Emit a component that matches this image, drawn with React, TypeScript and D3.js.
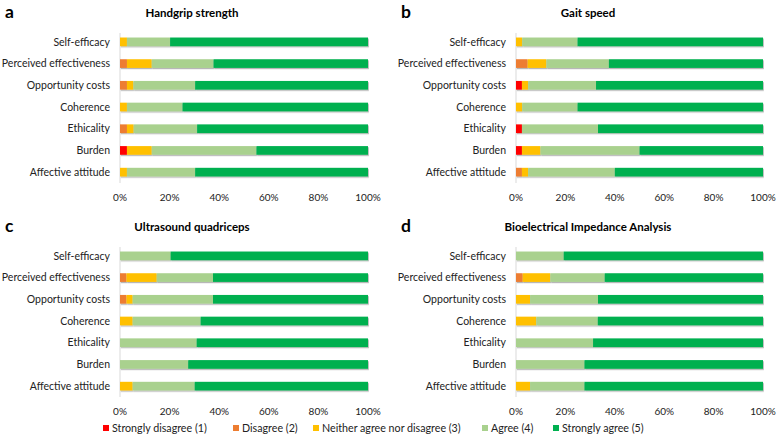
import * as d3 from "d3";
import { useEffect, useRef } from "react";

const categories = [
  "Self-efficacy",
  "Perceived effectiveness",
  "Opportunity costs",
  "Coherence",
  "Ethicality",
  "Burden",
  "Affective attitude",
];

const levels = [
  "Strongly disagree (1)",
  "Disagree (2)",
  "Neither agree nor disagree (3)",
  "Agree (4)",
  "Strongly agree (5)",
];

const colors = ["#ff0000", "#ed7d31", "#ffc000", "#a9d18e", "#00b050"];

const ticks = [0, 0.2, 0.4, 0.6, 0.8, 1];

// percent per category: [SD, D, N, A, SA]
const handgrip = [
  [0, 0, 2.8, 17.4, 79.8],
  [0, 2.8, 10.0, 24.9, 62.3],
  [0, 2.8, 2.6, 24.9, 69.7],
  [0, 0, 2.8, 22.4, 74.8],
  [0, 2.8, 2.7, 25.6, 68.9],
  [2.8, 0, 10.0, 42.2, 45.0],
  [0, 0, 2.8, 27.5, 69.7],
];

const gait = [
  [0, 0, 2.5, 22.4, 75.1],
  [0, 4.7, 7.6, 25.3, 62.4],
  [2.4, 0, 2.5, 27.5, 67.6],
  [0, 0, 2.5, 22.4, 75.1],
  [2.4, 0, 0, 30.8, 66.8],
  [2.4, 0, 7.5, 40.1, 50.0],
  [0, 2.4, 2.5, 35.1, 60.0],
];

const ultrasound = [
  [0, 0, 0, 20.4, 79.6],
  [0, 2.6, 12.2, 22.7, 62.5],
  [0, 2.6, 2.5, 32.4, 62.5],
  [0, 0, 5.1, 27.4, 67.5],
  [0, 0, 0, 30.9, 69.1],
  [0, 0, 0, 27.5, 72.5],
  [0, 0, 5.1, 25.0, 69.9],
];

const bia = [
  [0, 0, 0, 19.3, 80.7],
  [0, 2.7, 11.2, 22.0, 64.1],
  [0, 0, 5.7, 27.5, 66.8],
  [0, 0, 8.2, 24.9, 66.9],
  [0, 0, 0, 31.2, 68.8],
  [0, 0, 0, 27.7, 72.3],
  [0, 0, 5.7, 22.0, 72.3],
];

const panels = [
  { letter: "a", title: "Handgrip strength", rows: handgrip, x0: 120, x1: 368, top: 31 },
  { letter: "b", title: "Gait speed", rows: gait, x0: 516, x1: 763, top: 31 },
  { letter: "c", title: "Ultrasound quadriceps", rows: ultrasound, x0: 120, x1: 368, top: 245 },
  { letter: "d", title: "Bioelectrical Impedance Analysis", rows: bia, x0: 516, x1: 763, top: 245 },
];

const font = "Lato, 'Open Sans', sans-serif";

export default function App() {
  const ref = useRef<SVGSVGElement>(null);

  useEffect(() => {
    document.body.style.margin = "0";
    const svg = d3.select(ref.current);
    svg.selectAll("*").remove();

    const defs = svg.append("defs");
    const f = defs
      .append("filter")
      .attr("id", "shadow")
      .attr("x", "-5%")
      .attr("y", "-30%")
      .attr("width", "110%")
      .attr("height", "180%");
    f.append("feDropShadow")
      .attr("dx", 0.8)
      .attr("dy", 1.2)
      .attr("stdDeviation", 0.6)
      .attr("flood-color", "#000")
      .attr("flood-opacity", 0.3);

    const stack = d3.stack<number[]>().keys(levels.map((_, i) => String(i))).value((d, k) => d[+k]);

    panels.forEach((p) => {
      const g = svg.append("g");
      const x = d3.scaleLinear().domain([0, 100]).range([p.x0, p.x1]);
      const y = d3
        .scaleBand()
        .domain(categories)
        .range([p.top, p.top + 152])
        .paddingInner(0.6)
        .paddingOuter(0.3);

      // panel letter and title
      g.append("text")
        .attr("x", p.x0 - 115)
        .attr("y", p.top - 13)
        .attr("font-family", font)
        .attr("font-weight", "bold")
        .attr("font-size", 17.5)
        .text(p.letter);
      g.append("text")
        .attr("x", p.x0 + 72)
        .attr("y", p.top - 14)
        .attr("text-anchor", "middle")
        .attr("font-family", font)
        .attr("font-weight", "bold")
        .attr("font-size", 11.5)
        .text(p.title);

      // axis line
      g.append("line")
        .attr("x1", p.x0)
        .attr("x2", p.x0)
        .attr("y1", p.top + 2)
        .attr("y2", p.top + 152)
        .attr("stroke", "#d9d9d9")
        .attr("stroke-width", 1);

      // category labels
      g.selectAll(".cat")
        .data(categories)
        .join("text")
        .attr("x", p.x0 - 10)
        .attr("y", (d) => y(d)! + y.bandwidth() / 2)
        .attr("dy", "0.35em")
        .attr("text-anchor", "end")
        .attr("font-family", font)
        .attr("font-size", 10.5)
        .attr("fill", "#222")
        .text((d) => d);

      // stacked bars
      const bars = g.append("g").attr("filter", "url(#shadow)");
      const series = stack(p.rows);
      series.forEach((s, si) => {
        bars
          .append("g")
          .attr("fill", colors[si])
          .selectAll("rect")
          .data(s.filter((d) => d[1] - d[0] > 0))
          .join("rect")
          .attr("x", (d) => x(d[0]))
          .attr("y", (d) => y(categories[p.rows.indexOf(d.data)])!)
          .attr("width", (d) => x(d[1]) - x(d[0]))
          .attr("height", y.bandwidth());
      });

      // tick labels
      g.selectAll(".tick")
        .data(ticks)
        .join("text")
        .attr("x", (d) => x(d * 100))
        .attr("y", p.top + 170)
        .attr("text-anchor", "middle")
        .attr("font-family", font)
        .attr("font-size", 10)
        .attr("fill", "#222")
        .text((d) => d3.format(".0%")(d));
    });

    // legend
    const legendX = [103, 233, 313, 482, 553];
    const lg = svg.append("g");
    levels.forEach((l, i) => {
      lg.append("rect")
        .attr("x", legendX[i])
        .attr("y", 425)
        .attr("width", 6)
        .attr("height", 6)
        .attr("fill", colors[i]);
      lg.append("text")
        .attr("x", legendX[i] + 9)
        .attr("y", 432)
        .attr("font-family", font)
        .attr("font-size", 10.7)
        .attr("fill", "#222")
        .text(l);
    });
  }, []);

  return <svg ref={ref} width={778} height={435} style={{ display: "block", background: "#fff" }} />;
}
